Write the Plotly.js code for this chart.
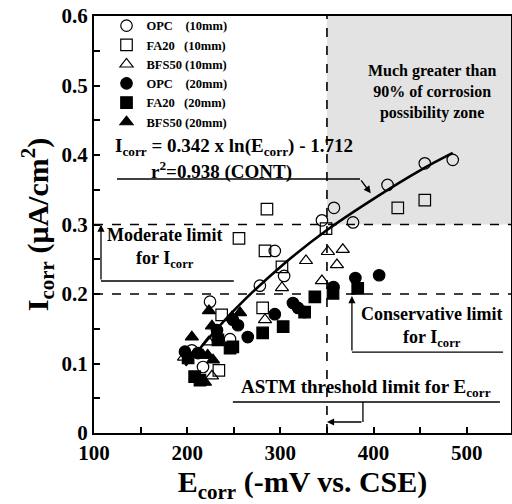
<!DOCTYPE html>
<html><head><meta charset="utf-8">
<script src="https://cdn.plot.ly/plotly-3.0.1.min.js"></script>
<style>html,body{margin:0;padding:0;background:#fff}#chart{width:512px;height:504px}</style>
</head><body><div id="chart"></div>
<script>
// ---- data ----
const opc10_E = [205, 217, 224.5, 246, 278, 294, 304, 344.6, 357.5, 378, 415, 455, 485];
const opc10_I = [0.119, 0.095, 0.189, 0.135, 0.212, 0.262, 0.226, 0.306, 0.324, 0.303, 0.357, 0.388, 0.393];
const fa10_E = [234, 237, 255.6, 281, 283.5, 285.6, 301.7, 349, 426, 455];
const fa10_I = [0.090, 0.170, 0.280, 0.180, 0.262, 0.322, 0.239, 0.294, 0.324, 0.335];
const bfs10_E = [196.6, 223, 226.6, 283.5, 301.7, 327.5, 344.6, 351, 360.7, 367];
const bfs10_I = [0.109, 0.131, 0.082, 0.163, 0.209, 0.248, 0.219, 0.261, 0.242, 0.264];
const opc20_E = [197.6, 211.6, 232, 249, 254.5, 265, 294, 313.5, 319, 326, 357, 380.5, 406];
const opc20_I = [0.117, 0.115, 0.148, 0.163, 0.155, 0.138, 0.171, 0.187, 0.180, 0.174, 0.210, 0.223, 0.227];
const fa20_E = [201, 208, 213.7, 233, 246, 249, 281, 303, 326, 337, 356.5, 383];
const fa20_I = [0.108, 0.081, 0.076, 0.134, 0.122, 0.124, 0.144, 0.153, 0.174, 0.196, 0.201, 0.208];
const bfs20_E = [205, 217, 219, 222, 223.4, 226.6, 227.7, 248, 256.7];
const bfs20_I = [0.138, 0.112, 0.073, 0.112, 0.176, 0.154, 0.105, 0.167, 0.173];
// fitted curve, points
const fit_E = [198, 250, 300, 350, 400, 450, 485];
const fit_I = [0.097, 0.176, 0.239, 0.292, 0.337, 0.378, 0.403];

const xTickVals = [100, 200, 300, 400, 500];
const xTickText = ['100', '200', '300', '400', '500'];
const yTickVals = [0, 0.1, 0.2, 0.3, 0.4, 0.5, 0.6];
const yTickText = ['0', '0.1', '0.2', '0.3', '0.4', '0.5', '0.6'];

const names = ['OPC\u00a0\u00a0\u00a0\u00a0(10mm)', 'FA20\u00a0\u00a0\u00a0(10mm)', 'BFS50\u00a0(10mm)',
               'OPC\u00a0\u00a0\u00a0\u00a0(20mm)', 'FA20\u00a0\u00a0\u00a0(20mm)', 'BFS50\u00a0(20mm)'];

const F = 'Liberation Serif, Times New Roman, serif';
function sc(E, I, name, symbol) {
  return {x: E, y: I, name: name, type: 'scatter', mode: 'markers',
    marker: {symbol: symbol, size: 11.5, color: '#000', line: {color: '#000', width: 1.2}}};
}
const traces = [
  sc(opc10_E, opc10_I, names[0], 'circle-open'),
  sc(fa10_E, fa10_I, names[1], 'square-open'),
  sc(bfs10_E, bfs10_I, names[2], 'triangle-up-open'),
  sc(opc20_E, opc20_I, names[3], 'circle'),
  sc(fa20_E, fa20_I, names[4], 'square'),
  sc(bfs20_E, bfs20_I, names[5], 'triangle-up'),
  {x: fit_E, y: fit_I, type: 'scatter', mode: 'lines', line: {color: '#000', width: 2.6, shape: 'spline'},
   showlegend: false, hoverinfo: 'skip'}
];

const dash = {color: '#000', width: 1.6, dash: 'dash'};
const solid = {color: '#000', width: 1.3};
const shapes = [
  {type: 'rect', xref: 'x', yref: 'y', x0: 350, x1: 560, y0: 0.3, y1: 0.6, fillcolor: '#e3e3e3', line: {width: 0}, layer: 'below'},
  {type: 'line', xref: 'x', yref: 'y', x0: 100, x1: 560, y0: 0.3, y1: 0.3, line: dash},
  {type: 'line', xref: 'x', yref: 'y', x0: 100, x1: 560, y0: 0.2, y1: 0.2, line: dash},
  {type: 'line', xref: 'x', yref: 'y', x0: 350, x1: 350, y0: 0, y1: 0.6, line: dash},
  // underlines
  {type: 'line', xref: 'x', yref: 'y', x0: 124.7, x1: 385.4, y0: 0.3655, y1: 0.3655, line: solid},
  {type: 'line', xref: 'x', yref: 'y', x0: 107.5, x1: 250, y0: 0.2187, y1: 0.2187, line: solid},
  {type: 'line', xref: 'x', yref: 'y', x0: 376.8, x1: 539, y0: 0.1165, y1: 0.1165, line: solid},
  {type: 'line', xref: 'x', yref: 'y', x0: 249, x1: 535.6, y0: 0.0446, y1: 0.0446, line: solid},
  {type: 'line', xref: 'x', yref: 'y', x0: 388.6, x1: 388.6, y0: 0.0446, y1: 0.0158, line: solid}
];

function arrow(x, y, ax, ay) {
  return {x: x, y: y, ax: ax, ay: ay, xref: 'x', yref: 'y', axref: 'x', ayref: 'y', text: '',
          showarrow: true, arrowhead: 2, arrowsize: 1.1, arrowwidth: 1.3, arrowcolor: '#000'};
}
const annotations = [
  {x: 462.6, y: 0.49, xref: 'x', yref: 'y', showarrow: false, align: 'center',
   text: 'Much greater than<br>90% of corrosion<br>possibility zone', font: {family: F, size: 16, color: '#000', weight: 'bold'}},
  {x: 250, y: 0.4115, xref: 'x', yref: 'y', showarrow: false,
   text: 'I<sub>corr</sub> = 0.342 x ln(E<sub>corr</sub>) - 1.712', font: {family: F, size: 19, color: '#000', weight: 'bold'}},
  {x: 237, y: 0.377, xref: 'x', yref: 'y', showarrow: false,
   text: 'r<sup>2</sup>=0.938 (CONT)', font: {family: F, size: 19, color: '#000', weight: 'bold'}},
  {x: 176, y: 0.2655, xref: 'x', yref: 'y', showarrow: false, align: 'center',
   text: 'Moderate limit<br>for I<sub>corr</sub>', font: {family: F, size: 18, color: '#000', weight: 'bold'}},
  {x: 462.7, y: 0.152, xref: 'x', yref: 'y', showarrow: false, align: 'center',
   text: 'Conservative limit<br>for I<sub>corr</sub>', font: {family: F, size: 18, color: '#000', weight: 'bold'}},
  {x: 391.8, y: 0.0647, xref: 'x', yref: 'y', showarrow: false,
   text: 'ASTM threshold limit for E<sub>corr</sub>', font: {family: F, size: 19, color: '#000', weight: 'bold'}},
  arrow(397, 0.345, 385.4, 0.3655),
  arrow(107.5, 0.300, 107.5, 0.2187),
  arrow(376.8, 0.197, 376.8, 0.1165),
  arrow(350, 0.0158, 388.6, 0.0158)
];

const layout = {
  width: 512, height: 504,
  margin: {l: 94, r: 1, t: 16, b: 71},
  paper_bgcolor: '#fff', plot_bgcolor: 'rgba(0,0,0,0)',
  showlegend: true,
  legend: {x: 0.03, y: 1.012, xanchor: 'left', yanchor: 'top', bgcolor: 'rgba(0,0,0,0)',
           font: {family: F, size: 12.5, color: '#000', weight: 'bold'}, tracegroupgap: 0, itemwidth: 30},
  xaxis: {range: [100, 547.5], showgrid: false, zeroline: false, showline: true, mirror: true,
          linecolor: '#000', linewidth: 2, ticks: 'inside', ticklen: 6, tickwidth: 2, tickcolor: '#000',
          tickvals: xTickVals, ticktext: xTickText,
          minor: {ticks: 'inside', ticklen: 6, tickwidth: 2, tickcolor: '#000', dtick: 50, showgrid: false},
          tickfont: {family: F, size: 21, color: '#000', weight: 'bold'},
          title: {text: 'E<sub>corr</sub> (-mV vs. CSE)', font: {family: F, size: 30, color: '#000', weight: 'bold'}, standoff: 4}},
  yaxis: {range: [0, 0.6], showgrid: false, zeroline: false, showline: true, mirror: true,
          linecolor: '#000', linewidth: 2, ticks: 'inside', ticklen: 6, tickwidth: 2, tickcolor: '#000',
          tickvals: yTickVals, ticktext: yTickText,
          minor: {ticks: 'inside', ticklen: 6, tickwidth: 2, tickcolor: '#000', dtick: 0.05, showgrid: false},
          tickfont: {family: F, size: 21, color: '#000', weight: 'bold'},
          title: {text: 'I<sub>corr</sub> (μA/cm<sup>2</sup>)', font: {family: F, size: 30, color: '#000', weight: 'bold'}, standoff: 4}},
  shapes: shapes,
  annotations: annotations
};
Plotly.newPlot('chart', traces, layout, {displayModeBar: false, staticPlot: true});
</script>
</body></html>
